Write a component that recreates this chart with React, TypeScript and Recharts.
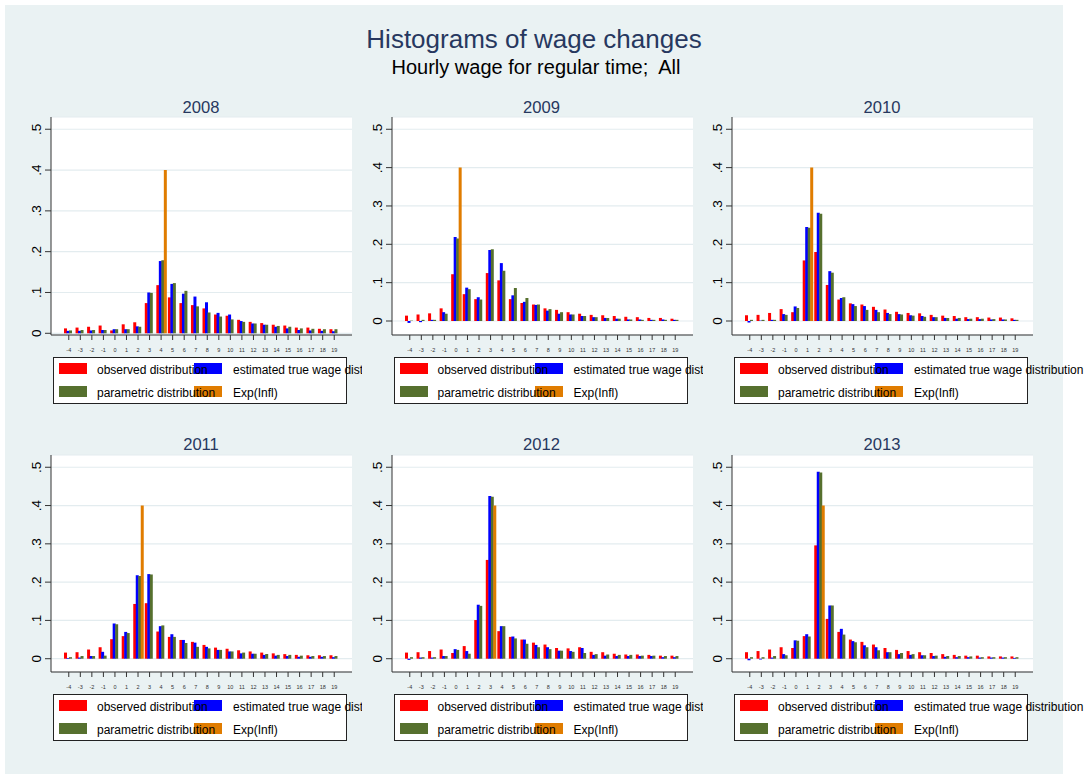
import React from 'react';
import { BarChart, Bar, XAxis, YAxis, CartesianGrid } from 'recharts';

const categories = [-4, -3, -2, -1, 0, 1, 2, 3, 4, 5, 6, 7, 8, 9, 10, 11, 12, 13, 14, 15, 16, 17, 18, 19];
const yTicks = [0, 0.1, 0.2, 0.3, 0.4, 0.5];
const years = ['2008', '2009', '2010', '2011', '2012', '2013'];

const observed2008 = [0.012, 0.014, 0.016, 0.019, 0.007, 0.022, 0.027, 0.074, 0.118, 0.088, 0.074, 0.069, 0.061, 0.046, 0.043, 0.033, 0.028, 0.025, 0.021, 0.019, 0.014, 0.014, 0.011, 0.010];
const estimated2008 = [0.006, 0.006, 0.007, 0.008, 0.010, 0.010, 0.017, 0.100, 0.177, 0.121, 0.097, 0.090, 0.076, 0.050, 0.046, 0.030, 0.024, 0.021, 0.016, 0.012, 0.008, 0.007, 0.006, 0.005];
const parametric2008 = [0.007, 0.008, 0.008, 0.008, 0.010, 0.010, 0.016, 0.099, 0.179, 0.123, 0.104, 0.066, 0.051, 0.041, 0.034, 0.028, 0.024, 0.021, 0.018, 0.016, 0.012, 0.011, 0.010, 0.010];

const observed2009 = [0.014, 0.017, 0.020, 0.033, 0.122, 0.070, 0.057, 0.125, 0.106, 0.057, 0.047, 0.043, 0.033, 0.029, 0.023, 0.019, 0.016, 0.015, 0.013, 0.011, 0.010, 0.008, 0.008, 0.006];
const estimated2009 = [-0.005, -0.003, 0.003, 0.023, 0.219, 0.087, 0.062, 0.185, 0.151, 0.067, 0.050, 0.042, 0.027, 0.019, 0.017, 0.013, 0.010, 0.008, 0.006, 0.004, 0.004, 0.003, 0.004, 0.003];
const parametric2009 = [0.001, 0.003, 0.003, 0.019, 0.215, 0.083, 0.056, 0.187, 0.131, 0.086, 0.060, 0.043, 0.031, 0.023, 0.017, 0.013, 0.010, 0.008, 0.006, 0.004, 0.003, 0.003, 0.003, 0.003];

const observed2010 = [0.015, 0.016, 0.021, 0.031, 0.023, 0.158, 0.180, 0.094, 0.056, 0.046, 0.043, 0.037, 0.030, 0.024, 0.021, 0.020, 0.016, 0.014, 0.013, 0.010, 0.010, 0.009, 0.009, 0.007];
const estimated2010 = [-0.004, 0.001, 0.003, 0.018, 0.038, 0.245, 0.282, 0.130, 0.060, 0.044, 0.039, 0.029, 0.021, 0.018, 0.015, 0.013, 0.010, 0.008, 0.006, 0.005, 0.005, 0.004, 0.004, 0.003];
const parametric2010 = [0.003, 0.003, 0.003, 0.016, 0.034, 0.243, 0.280, 0.126, 0.062, 0.039, 0.029, 0.023, 0.018, 0.017, 0.014, 0.011, 0.010, 0.008, 0.008, 0.006, 0.006, 0.005, 0.004, 0.003];

const observed2011 = [0.016, 0.017, 0.024, 0.030, 0.051, 0.059, 0.143, 0.145, 0.071, 0.057, 0.049, 0.044, 0.036, 0.029, 0.026, 0.022, 0.019, 0.016, 0.014, 0.012, 0.010, 0.009, 0.009, 0.009];
const estimated2011 = [0.002, 0.003, 0.007, 0.018, 0.092, 0.070, 0.218, 0.221, 0.085, 0.064, 0.049, 0.042, 0.031, 0.023, 0.019, 0.014, 0.013, 0.010, 0.008, 0.007, 0.005, 0.005, 0.005, 0.004];
const parametric2011 = [0.004, 0.007, 0.007, 0.008, 0.090, 0.067, 0.216, 0.220, 0.087, 0.057, 0.041, 0.031, 0.027, 0.023, 0.019, 0.016, 0.013, 0.012, 0.010, 0.010, 0.008, 0.007, 0.007, 0.007];

const observed2012 = [0.016, 0.017, 0.020, 0.024, 0.015, 0.033, 0.101, 0.258, 0.072, 0.057, 0.050, 0.042, 0.037, 0.028, 0.027, 0.030, 0.018, 0.017, 0.013, 0.011, 0.011, 0.010, 0.008, 0.008];
const estimated2012 = [-0.003, 0.003, 0.003, 0.007, 0.025, 0.020, 0.141, 0.425, 0.085, 0.058, 0.050, 0.036, 0.030, 0.021, 0.020, 0.028, 0.010, 0.008, 0.007, 0.007, 0.007, 0.007, 0.004, 0.004];
const parametric2012 = [0.004, 0.004, 0.004, 0.007, 0.023, 0.013, 0.138, 0.423, 0.085, 0.053, 0.039, 0.030, 0.025, 0.021, 0.018, 0.015, 0.012, 0.011, 0.010, 0.010, 0.008, 0.008, 0.007, 0.007];

const observed2013 = [0.017, 0.020, 0.024, 0.030, 0.028, 0.059, 0.296, 0.104, 0.070, 0.050, 0.044, 0.037, 0.028, 0.023, 0.020, 0.017, 0.015, 0.012, 0.010, 0.008, 0.008, 0.006, 0.006, 0.006];
const estimated2013 = [-0.004, -0.002, 0.003, 0.012, 0.048, 0.064, 0.488, 0.139, 0.078, 0.046, 0.035, 0.030, 0.017, 0.012, 0.010, 0.009, 0.007, 0.005, 0.004, 0.004, 0.003, 0.003, 0.003, 0.002];
const parametric2013 = [0.004, 0.004, 0.007, 0.009, 0.047, 0.058, 0.486, 0.139, 0.063, 0.043, 0.030, 0.022, 0.017, 0.015, 0.012, 0.009, 0.008, 0.007, 0.007, 0.006, 0.004, 0.004, 0.004, 0.004];

const expInflCategories = [4, 0, 1, 2, 3, 2];
const expInflValues = [0.4, 0.4, 0.4, 0.4, 0.4, 0.4];

const observedAll = [observed2008, observed2009, observed2010, observed2011, observed2012, observed2013];
const estimatedAll = [estimated2008, estimated2009, estimated2010, estimated2011, estimated2012, estimated2013];
const parametricAll = [parametric2008, parametric2009, parametric2010, parametric2011, parametric2012, parametric2013];

const legendLabels = ['observed distribution', 'estimated true wage distribution', 'parametric distribution', 'Exp(Infl)'];

const RED = '#ff0000';
const BLUE = '#0000ff';
const GREEN = '#56702e';
const ORANGE = '#e07c00';
const NAVY = '#27385f';
const FONT = '"Liberation Sans", Arial, Helvetica, sans-serif';

const domains: [number, number][] = [
  [-0.0042, 0.530],
  [-0.0365, 0.532],
  [-0.0365, 0.532],
  [-0.0347, 0.532],
  [-0.0347, 0.532],
  [-0.0347, 0.532],
];

const XTick = (props: any) => {
  const { x, y, payload } = props;
  return (
    <text x={x} y={y} dy={10} textAnchor="middle" fontSize={5.5} fill="#333" fontFamily={FONT}>
      {String(payload.value)}
    </text>
  );
};

const YTick = (props: any) => {
  const { x, y, payload } = props;
  const v = payload.value as number;
  const label = v === 0 ? '0' : '.' + Math.round(v * 10);
  return (
    <text x={x} y={y} transform={`rotate(-90 ${x} ${y})`} textAnchor="middle" fontSize={13.5} fill="#000" fontFamily={FONT}>
      {label}
    </text>
  );
};

const Legend = ({ top }: { top: number }) => {
  const txt: React.CSSProperties = { position: 'absolute', fontSize: 12, lineHeight: '12px', whiteSpace: 'nowrap', color: '#000', fontFamily: FONT };
  const sw: React.CSSProperties = { position: 'absolute', width: 28, height: 11 };
  return (
    <div style={{ position: 'absolute', left: 42, top, width: 294, height: 47, background: '#fff', border: '1px solid #222', boxSizing: 'border-box' }}>
      <div style={{ ...sw, left: 5, top: 5, background: RED }} />
      <div style={{ ...sw, left: 140, top: 5, background: BLUE }} />
      <div style={{ ...sw, left: 5, top: 28, background: GREEN }} />
      <div style={{ ...sw, left: 140, top: 28, background: ORANGE }} />
      <span style={{ ...txt, left: 43, top: 6 }}>{legendLabels[0]}</span>
      <span style={{ ...txt, left: 179, top: 6 }}>{legendLabels[1]}</span>
      <span style={{ ...txt, left: 43, top: 29 }}>{legendLabels[2]}</span>
      <span style={{ ...txt, left: 179, top: 29 }}>{legendLabels[3]}</span>
    </div>
  );
};

const Panel = ({ idx }: { idx: number }) => {
  const col = idx % 3;
  const row = Math.floor(idx / 3);
  const left = 11 + 340.5 * col;
  const top = row === 0 ? 95 : 433;
  const height = row === 0 ? 265 : 264;
  const data = categories.map((c, i) => ({
    x: c,
    obs: observedAll[idx][i],
    est: estimatedAll[idx][i],
    par: parametricAll[idx][i],
    exp: c === expInflCategories[idx] ? expInflValues[idx] : null,
  }));
  return (
    <div style={{ position: 'absolute', left, top, width: 351, height: 320, overflow: col < 2 ? 'hidden' : 'visible' }}>
      <BarChart width={351} height={height} data={data} margin={{ top: 22, right: 10, bottom: 0, left: 0 }} barGap={-0.5} barSize={3}>
        <CartesianGrid vertical={false} fill="#ffffff" stroke="#e3ecef" strokeWidth={1.2} />
        <XAxis dataKey="x" type="category" interval={0} height={25} tickSize={5} tickMargin={2} tick={<XTick />} axisLine={{ stroke: '#333' }} tickLine={{ stroke: '#333' }} padding={{ left: 12, right: 12 }} />
        <YAxis type="number" domain={domains[idx]} allowDataOverflow ticks={yTicks} width={40} tickSize={6} tickMargin={4} tick={<YTick />} axisLine={{ stroke: '#333' }} tickLine={{ stroke: '#333' }} />
        <Bar dataKey="obs" fill={RED} isAnimationActive={false} />
        <Bar dataKey="est" fill={BLUE} isAnimationActive={false} />
        <Bar dataKey="par" fill={GREEN} isAnimationActive={false} />
        <Bar dataKey="exp" fill={ORANGE} isAnimationActive={false} />
      </BarChart>
      <Legend top={row === 0 ? 262 : 261} />
    </div>
  );
};

export default function App() {
  return (
    <div style={{ position: 'absolute', left: 0, top: 0, width: 1090, height: 774, background: '#fff', fontFamily: FONT, overflow: 'hidden' }}>
      <div style={{ position: 'absolute', left: 5, top: 5, width: 1058, height: 769, background: '#eaf2f3' }} />
      <svg width={1090} height={774} style={{ position: 'absolute', left: 0, top: 0 }}>
        <text x={534} y={48} textAnchor="middle" fontSize={26} fill={NAVY} fontFamily={FONT}>Histograms of wage changes</text>
        <text x={536} y={74} textAnchor="middle" fontSize={20} fill="#000" fontFamily={FONT} style={{ whiteSpace: 'pre' }}>Hourly wage for regular time;  All</text>
        {years.map((yr, i) => {
          const col = i % 3;
          const row = Math.floor(i / 3);
          const cx = 201 + 340.5 * col;
          const by = row === 0 ? 113 : 450;
          return (
            <text key={yr} x={cx} y={by} textAnchor="middle" fontSize={16.6} fill={NAVY} fontFamily={FONT}>{yr}</text>
          );
        })}
      </svg>
      {years.map((yr, i) => (
        <Panel key={yr} idx={i} />
      ))}
    </div>
  );
}
